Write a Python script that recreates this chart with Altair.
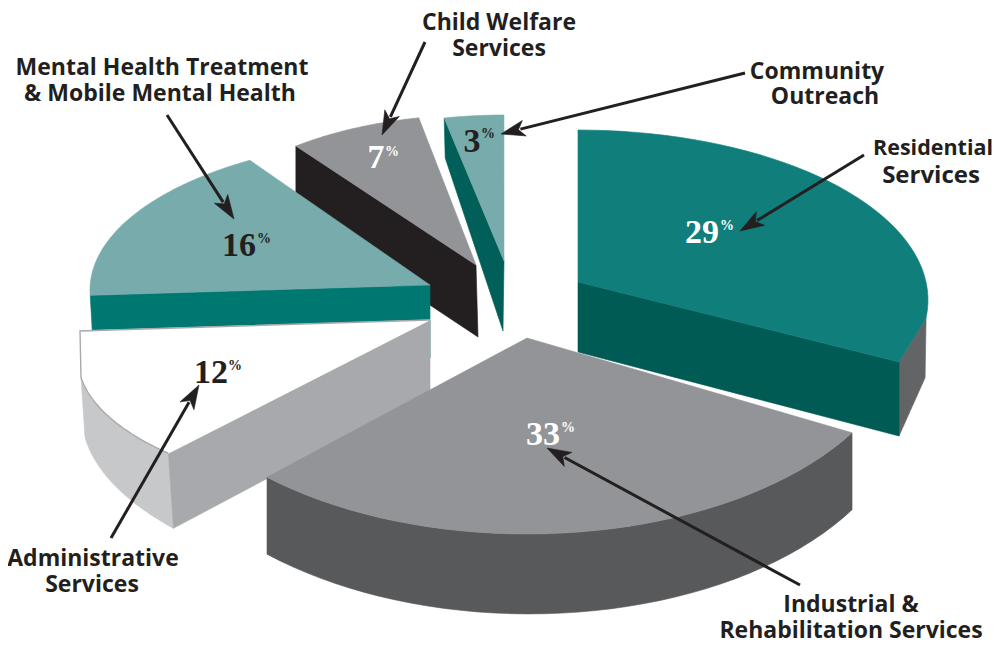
import math
import altair as alt
import pandas as pd

# --- chart values ---
categories = ["Residential Services", "Industrial & Rehabilitation Services", "Administrative Services",
              "Mental Health Treatment & Mobile Mental Health", "Child Welfare Services", "Community Outreach"]
shares = [29, 33, 12, 16, 7, 3]

# --- slice geometry: apex, arc ellipse centre and radii, start angle,
#     degrees per percentage point, thickness ---
geo = {
    "res": dict(share=shares[0], apex=(578, 282), c=(578, 300), r=(350, 170), t0=0, k=3.31, h=75),
    "ind": dict(share=shares[1], apex=(527, 338), c=(527, 324), r=(380, 210), t0=121.2, k=3.09, h=77),
    "adm": dict(share=shares[2], apex=(430, 320), c=(430, 359), r=(352, 141), t0=228, k=2.875, h=72),
    "mhs": dict(share=shares[3], apex=(430, 285), c=(430, 290), r=(340, 153), t0=268, k=3.75, h=35),
    "cws": dict(share=shares[4], apex=(476, 265), c=(476, 270), r=(300, 155), t0=323.1, k=3.7, h=70),
    "cor": dict(share=shares[5], apex=(504, 261), c=(504, 265), r=(300, 150), t0=348.5, k=3.83, h=70),
}
RES_CORNER = (899, 362)
ADM_CORNER = (80, 331)

TEAL, TEAL_D, TEAL_L = "#107e7b", "#005b55", "#78abab"
GREY, GREY_D, BLACK = "#929497", "#58595b", "#231f20"


def arc(g, n=40):
    a = g["t0"]
    b = g["t0"] + g["share"] * g["k"]
    pts = []
    for i in range(n + 1):
        t = math.radians(a + (b - a) * i / n)
        pts.append((g["c"][0] + g["r"][0] * math.sin(t), g["c"][1] - g["r"][1] * math.cos(t)))
    return pts


X = alt.X("x:Q", scale=alt.Scale(domain=[8, 994], nice=False, zero=False), axis=None)
Y = alt.Y("y:Q", scale=alt.Scale(domain=[640, 8], nice=False, zero=False), axis=None)


def frame(pts):
    return pd.DataFrame({"x": [p[0] for p in pts], "y": [p[1] for p in pts], "i": range(len(pts))})


def poly(pts, fill, sw=0.6):
    pts = list(pts) + [pts[0]]
    return alt.Chart(frame(pts)).mark_line(fill=fill, stroke=fill, strokeWidth=sw).encode(x=X, y=Y, order="i:Q")


def path(pts, color, sw):
    return alt.Chart(frame(pts)).mark_line(color=color, strokeWidth=sw).encode(x=X, y=Y, order="i:Q")


layers = []

# Community Outreach
g = geo["cor"]; a = arc(g)
layers += [poly([a[0], g["apex"], (g["apex"][0] - 1, g["apex"][1] + g["h"]), (a[0][0] + 1, a[0][1] + 40)], "#005f59"),
           poly([g["apex"]] + a, TEAL_L)]
# Child Welfare
g = geo["cws"]; a = arc(g)
layers += [poly([a[0], g["apex"], (g["apex"][0] + 2, g["apex"][1] + g["h"] + 2), (a[0][0], a[0][1] + g["h"])], BLACK),
           poly([g["apex"]] + a, GREY)]
# Mental Health
g = geo["mhs"]; a = arc(g)
layers += [path([(430, 320), (430, 358)], "#3f8f8b", 1),
           poly([a[0], g["apex"], (g["apex"][0], g["apex"][1] + g["h"]), (a[0][0] + 2, a[0][1] + g["h"])], "#007872"),
           poly([g["apex"]] + a, TEAL_L)]
# Administrative
g = geo["adm"]; a = arc(g)
n = len(a) - 1
lower = [(x + 5 - i / n, y + 75 - 15 * i / n) for i, (x, y) in enumerate(a)]
layers += [poly(a + lower[::-1], "#c7c8ca"),
           poly([a[0], g["apex"], (g["apex"][0], g["apex"][1] + g["h"]), lower[0]], "#a7a9ac"),
           poly([g["apex"], ADM_CORNER] + a[::-1], "#ffffff"),
           path([g["apex"], ADM_CORNER] + a[::-1], "#a7a9ac", 1.4)]
# Residential
g = geo["res"]; a = arc(g)
e = a[-1]
layers += [poly([e, RES_CORNER, (RES_CORNER[0], RES_CORNER[1] + 74), (e[0] - 1, e[1] + 60)], "#636466"),
           poly([g["apex"], RES_CORNER, (RES_CORNER[0], RES_CORNER[1] + 74), (g["apex"][0], g["apex"][1] + 70)], TEAL_D),
           poly([g["apex"]] + a + [RES_CORNER], TEAL)]
# Industrial
g = geo["ind"]; a = arc(g)
n = len(a) - 1
lower = [(x, y + g["h"] + 3 * math.sin(math.pi * i / n)) for i, (x, y) in enumerate(a)]
layers += [poly(a + lower[::-1], GREY_D),
           poly([g["apex"]] + a, GREY)]

# --- annotation text and arrows ---
label_lines = [
    ("Child Welfare", 499, 23, 23), ("Services", 499, 49, 23),
    ("Mental Health Treatment", 162, 68, 23), ("& Mobile Mental Health", 160, 94, 23),
    ("Community", 817, 72, 23), ("Outreach", 825, 97, 23),
    ("Residential", 933, 149, 21.5), ("Services", 931, 176, 24),
    ("Industrial &", 851, 605, 23), ("Rehabilitation Services", 851, 631, 23),
    ("Administrative", 93, 559, 23), ("Services", 92, 585, 23),
]
pct_pos = [(702, 233, "#ffffff"), (543, 435, "#ffffff"), (211, 373, BLACK),
           (239, 246, BLACK), (376, 158, "#ffffff"), (472, 142, BLACK)]
sup_pos = [(727, 226), (568, 428), (235, 366), (264, 239), (392, 152), (488, 134)]

tx = pd.DataFrame({"t": [l[0] for l in label_lines], "x": [l[1] for l in label_lines],
                   "y": [l[2] for l in label_lines], "s": [l[3] for l in label_lines]})
layer_txt = alt.Chart(tx).mark_text(font="Open Sans", fontWeight="bold", color=BLACK, baseline="middle").encode(
    x=X, y=Y, text="t:N", size=alt.Size("s:Q", scale=None, legend=None))

for s, (x, y, col), (sx, sy) in zip(shares, pct_pos, sup_pos):
    d1 = pd.DataFrame({"x": [x], "y": [y], "t": [str(s)]})
    d2 = pd.DataFrame({"x": [sx], "y": [sy], "t": ["%"]})
    layers.append(alt.Chart(d1).mark_text(font="Liberation Serif", fontWeight="bold", fontSize=34, color=col,
                                          baseline="middle").encode(x=X, y=Y, text="t:N"))
    layers.append(alt.Chart(d2).mark_text(font="Liberation Serif", fontWeight="bold", fontSize=14, color=col,
                                          baseline="middle").encode(x=X, y=Y, text="t:N"))

arrows = [((425, 42), (382, 135)), ((745, 73), (501, 134)), ((864, 155), (740, 231)),
          ((167, 115), (234, 219)), ((111, 538), (199, 385)), ((800, 585), (547, 448))]


def arrow(tail, tip):
    dx, dy = tip[0] - tail[0], tip[1] - tail[1]
    n = math.hypot(dx, dy); ux, uy = dx / n, dy / n; px, py = -uy, ux
    L, W, N = 24, 8, 18
    shaft_end = (tip[0] - ux * 20, tip[1] - uy * 20)
    head = [tip, (tip[0] - ux * L + px * W, tip[1] - uy * L + py * W),
            (tip[0] - ux * N, tip[1] - uy * N), (tip[0] - ux * L - px * W, tip[1] - uy * L - py * W)]
    return [path([tail, shaft_end], BLACK, 3), poly(head, BLACK)]


for tl, tp in arrows:
    layers += arrow(tl, tp)
layers.append(layer_txt)

chart = alt.layer(*layers).properties(width=986, height=632, autosize=alt.AutoSizeParams(type="none"),
                                      padding=0).configure_view(stroke=None)
chart.save("out.html", embed_options={"renderer": "svg", "actions": False})
